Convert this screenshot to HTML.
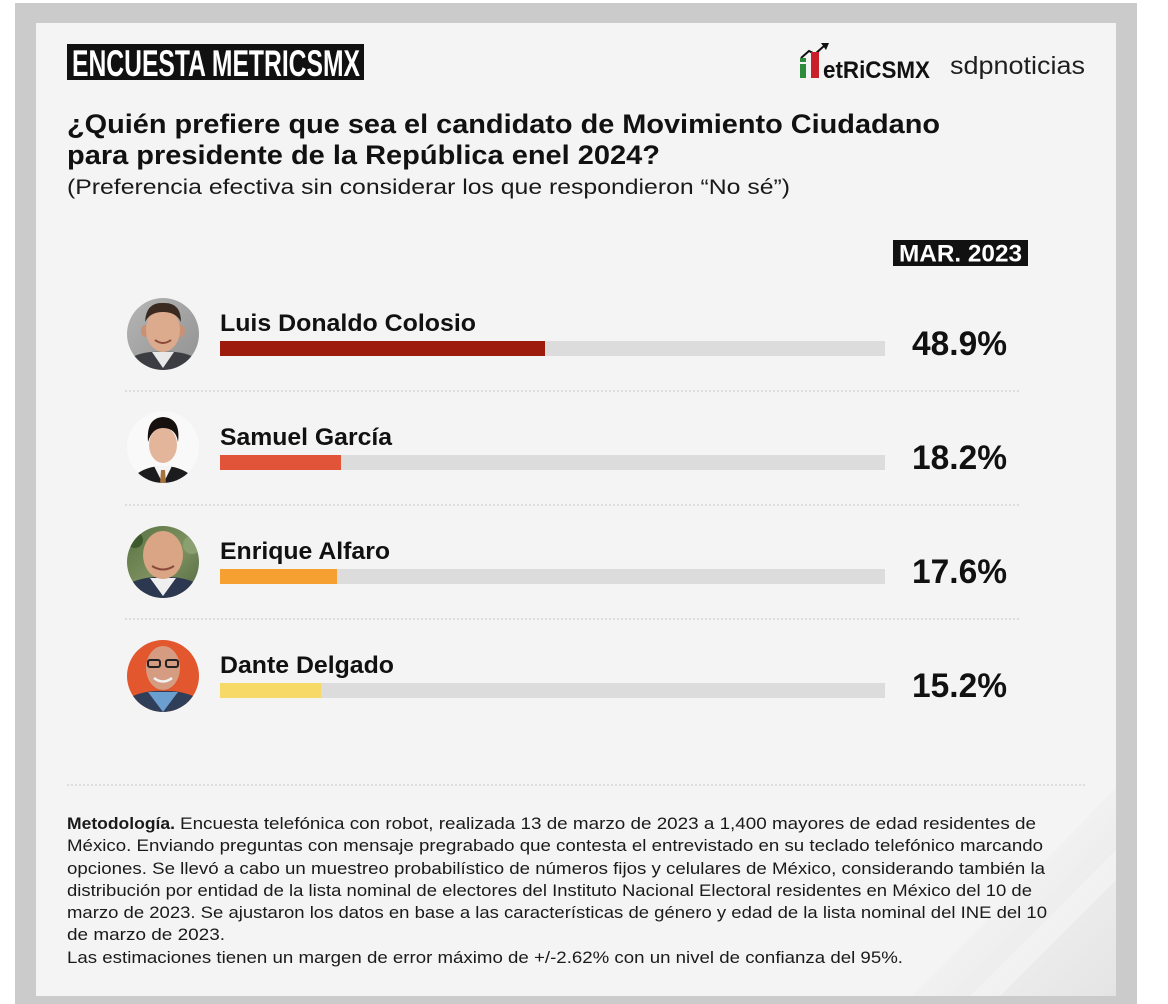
<!DOCTYPE html>
<html>
<head>
<meta charset="utf-8">
<style>
  html, body { margin: 0; padding: 0; background: #ffffff; }
  svg { display: block; }
  text { font-family: "Liberation Sans", Arial, sans-serif; }
</style>
</head>
<body>
<svg width="1168" height="1004" viewBox="0 0 1168 1004" xmlns="http://www.w3.org/2000/svg">
  <defs>
    <clipPath id="c1"><circle cx="163" cy="334" r="36"/></clipPath>
    <clipPath id="c2"><circle cx="163" cy="447" r="36"/></clipPath>
    <clipPath id="c3"><circle cx="163" cy="562" r="36"/></clipPath>
    <clipPath id="c4"><circle cx="163" cy="676" r="36"/></clipPath>
    <linearGradient id="bg1" x1="0" y1="0" x2="1" y2="1">
      <stop offset="0" stop-color="#b9b9b9"/>
      <stop offset="1" stop-color="#8c8c8c"/>
    </linearGradient>
    <linearGradient id="bg3" x1="0" y1="0" x2="1" y2="1">
      <stop offset="0" stop-color="#4f6b3c"/>
      <stop offset="0.5" stop-color="#7f9260"/>
      <stop offset="1" stop-color="#3e5a35"/>
    </linearGradient>
    <linearGradient id="corner" x1="0" y1="0" x2="1" y2="1">
      <stop offset="0" stop-color="#ececec"/>
      <stop offset="0.5" stop-color="#f1f1f1"/>
      <stop offset="1" stop-color="#e4e4e4"/>
    </linearGradient>
  </defs>

  <!-- outer frame -->
  <rect x="0" y="0" width="1168" height="1004" fill="#ffffff"/>
  <rect x="15" y="3" width="1122" height="1001" fill="#cbcbcb"/>
  <rect x="36" y="23" width="1080" height="973" fill="#f4f4f4"/>
  <!-- bottom right shading -->
  <polygon points="1116,788 1116,996 912,996" fill="url(#corner)"/>
  <polygon points="1116,850 1116,880 1000,996 970,996" fill="#f3f3f3" opacity="0.7"/>

  <!-- header box -->
  <rect x="67" y="44" width="297" height="36" fill="#111111"/>
  <text x="72" y="76" font-family="'Liberation Sans Narrow', 'Liberation Sans', sans-serif" font-size="37" font-weight="bold" fill="#ffffff" textLength="288" lengthAdjust="spacingAndGlyphs">ENCUESTA METRICSMX</text>

  <!-- metricsmx logo -->
  <polyline points="801,58 809,51 815,54 824,46" fill="none" stroke="#111" stroke-width="2"/>
  <polygon points="821,43 829,43 826,50" fill="#111"/>
  <rect x="800" y="64" width="6" height="14" fill="#2e8b3a"/>
  <rect x="800" y="58" width="6" height="4" fill="#2e8b3a"/>
  <rect x="811" y="52" width="8" height="26" fill="#c8202a"/>
  <text x="823" y="78" font-size="24" font-weight="bold" fill="#111" textLength="107" lengthAdjust="spacingAndGlyphs">etRiCSMX</text>
  <text x="950" y="74" font-size="25" fill="#1e1e1e" textLength="135" lengthAdjust="spacingAndGlyphs">sdpnoticias</text>

  <!-- title -->
  <text x="67" y="133" font-size="27" font-weight="bold" fill="#111" textLength="873" lengthAdjust="spacingAndGlyphs">¿Quién prefiere que sea el candidato de Movimiento Ciudadano</text>
  <text x="67" y="164" font-size="27" font-weight="bold" fill="#111" textLength="593" lengthAdjust="spacingAndGlyphs">para presidente de la República enel 2024?</text>
  <text x="67" y="194" font-size="21.5" fill="#1a1a1a" textLength="723" lengthAdjust="spacingAndGlyphs">(Preferencia efectiva sin considerar los que respondieron “No sé”)</text>

  <!-- MAR 2023 -->
  <rect x="893" y="240" width="135" height="26" fill="#111111"/>
  <text x="899" y="261.5" font-size="24" font-weight="bold" fill="#ffffff" textLength="123" lengthAdjust="spacingAndGlyphs">MAR. 2023</text>

  <!-- Row 1 avatar -->
  <g clip-path="url(#c1)">
    <rect x="120" y="290" width="90" height="90" fill="url(#bg1)"/>
    <path d="M120,380 L124,362 Q140,350 163,352 Q186,350 202,362 L206,380 Z" fill="#3b3d42"/>
    <path d="M152,352 L163,368 L174,352 Z" fill="#e8e8e8"/>
    <ellipse cx="145" cy="331" rx="4" ry="6" fill="#c99176"/>
    <ellipse cx="181" cy="331" rx="4" ry="6" fill="#c99176"/>
    <ellipse cx="163" cy="330" rx="17" ry="22" fill="#dcaa8c"/>
    <path d="M145,322 Q146,302 163,303 Q181,302 181,322 Q176,312 163,312 Q150,312 145,322 Z" fill="#3b2a20"/>
    <path d="M155,340 Q163,346 171,340" stroke="#8a4a3a" stroke-width="2" fill="none"/>
  </g>
  <text x="220" y="331" font-size="24.5" font-weight="bold" fill="#111" textLength="256" lengthAdjust="spacingAndGlyphs">Luis Donaldo Colosio</text>
  <rect x="220" y="341" width="665" height="15" fill="#dcdcdc"/>
  <rect x="220" y="341" width="325" height="15" fill="#9c1b0c"/>
  <text x="912" y="355" font-size="34" font-weight="bold" fill="#111" textLength="95" lengthAdjust="spacingAndGlyphs">48.9%</text>

  <line x1="125" y1="391" x2="1020" y2="391" stroke="#c6c6c6" stroke-width="1" stroke-dasharray="2,2"/>

  <!-- Row 2 avatar -->
  <g clip-path="url(#c2)">
    <rect x="120" y="405" width="90" height="90" fill="#f9f9f9"/>
    <path d="M130,490 L134,476 Q146,466 163,466 Q180,466 192,476 L196,490 Z" fill="#1c1c1e"/>
    <path d="M154,466 L163,484 L172,466 Z" fill="#f4f4f4"/>
    <path d="M161,470 L165,470 L166,484 L160,484 Z" fill="#a77440"/>
    <ellipse cx="163" cy="445" rx="14" ry="18" fill="#e3b69c"/>
    <path d="M148,442 Q146,418 163,417 Q181,418 178,442 Q176,428 163,428 Q152,428 148,442 Z" fill="#16110f"/>
  </g>
  <text x="220" y="445" font-size="24.5" font-weight="bold" fill="#111" textLength="172" lengthAdjust="spacingAndGlyphs">Samuel García</text>
  <rect x="220" y="455" width="665" height="15" fill="#dcdcdc"/>
  <rect x="220" y="455" width="121" height="15" fill="#e2543a"/>
  <text x="912" y="469" font-size="34" font-weight="bold" fill="#111" textLength="95" lengthAdjust="spacingAndGlyphs">18.2%</text>

  <line x1="125" y1="505" x2="1020" y2="505" stroke="#c6c6c6" stroke-width="1" stroke-dasharray="2,2"/>

  <!-- Row 3 avatar -->
  <g clip-path="url(#c3)">
    <rect x="120" y="520" width="90" height="90" fill="url(#bg3)"/>
    <circle cx="135" cy="540" r="8" fill="#3d5a2e"/>
    <circle cx="192" cy="545" r="9" fill="#8aa070"/>
    <path d="M120,605 L124,586 Q142,576 163,577 Q184,576 202,586 L206,605 Z" fill="#2c3750"/>
    <path d="M150,578 L163,596 L176,578 Z" fill="#efefef"/>
    <ellipse cx="163" cy="555" rx="20" ry="24" fill="#d9a585"/>
    <path d="M152,566 Q163,573 174,566" stroke="#8a4a3a" stroke-width="2" fill="none"/>
  </g>
  <text x="220" y="559" font-size="24.5" font-weight="bold" fill="#111" textLength="170" lengthAdjust="spacingAndGlyphs">Enrique Alfaro</text>
  <rect x="220" y="569" width="665" height="15" fill="#dcdcdc"/>
  <rect x="220" y="569" width="117" height="15" fill="#f5a031"/>
  <text x="912" y="583" font-size="34" font-weight="bold" fill="#111" textLength="95" lengthAdjust="spacingAndGlyphs">17.6%</text>

  <line x1="125" y1="619" x2="1020" y2="619" stroke="#c6c6c6" stroke-width="1" stroke-dasharray="2,2"/>

  <!-- Row 4 avatar -->
  <g clip-path="url(#c4)">
    <rect x="120" y="635" width="90" height="90" fill="#e2572d"/>
    <path d="M120,720 L125,700 Q142,690 163,691 Q184,690 201,700 L206,720 Z" fill="#2f3f5a"/>
    <path d="M148,692 L163,712 L178,692 Z" fill="#6b9fcf"/>
    <ellipse cx="163" cy="668" rx="17" ry="22" fill="#d69c82"/>
    <rect x="148" y="660" width="12" height="7" rx="2" fill="none" stroke="#222" stroke-width="2"/>
    <rect x="166" y="660" width="12" height="7" rx="2" fill="none" stroke="#222" stroke-width="2"/>
    <path d="M154,678 Q163,685 172,678" stroke="#f2f2f2" stroke-width="2.5" fill="none"/>
  </g>
  <text x="220" y="673" font-size="24.5" font-weight="bold" fill="#111" textLength="174" lengthAdjust="spacingAndGlyphs">Dante Delgado</text>
  <rect x="220" y="683" width="665" height="15" fill="#dcdcdc"/>
  <rect x="220" y="683" width="101" height="15" fill="#f7d968"/>
  <text x="912" y="697" font-size="34" font-weight="bold" fill="#111" textLength="95" lengthAdjust="spacingAndGlyphs">15.2%</text>

  <!-- bottom separator -->
  <line x1="67" y1="785" x2="1087" y2="785" stroke="#c6c6c6" stroke-width="1" stroke-dasharray="2,2"/>

  <!-- methodology -->
  <g font-size="17" fill="#1a1a1a">
    <text x="67" y="829" font-weight="bold" textLength="108" lengthAdjust="spacingAndGlyphs">Metodología.</text>
    <text x="180" y="829" textLength="856" lengthAdjust="spacingAndGlyphs">Encuesta telefónica con robot, realizada 13 de marzo de 2023 a 1,400 mayores de edad residentes de</text>
    <text x="67" y="851" textLength="976" lengthAdjust="spacingAndGlyphs">México. Enviando preguntas con mensaje pregrabado que contesta el entrevistado en su teclado telefónico marcando</text>
    <text x="67" y="874" textLength="978" lengthAdjust="spacingAndGlyphs">opciones. Se llevó a cabo un muestreo probabilístico de números fijos y celulares de México, considerando también la</text>
    <text x="67" y="896" textLength="965" lengthAdjust="spacingAndGlyphs">distribución por entidad de la lista nominal de electores del Instituto Nacional Electoral residentes en México del 10 de</text>
    <text x="67" y="918" textLength="980" lengthAdjust="spacingAndGlyphs">marzo de 2023. Se ajustaron los datos en base a las características de género y edad de la lista nominal del INE del 10</text>
    <text x="67" y="940" textLength="158" lengthAdjust="spacingAndGlyphs">de marzo de 2023.</text>
    <text x="67" y="963" textLength="836" lengthAdjust="spacingAndGlyphs">Las estimaciones tienen un margen de error máximo de +/-2.62% con un nivel de confianza del 95%.</text>
  </g>
</svg>
</body>
</html>
